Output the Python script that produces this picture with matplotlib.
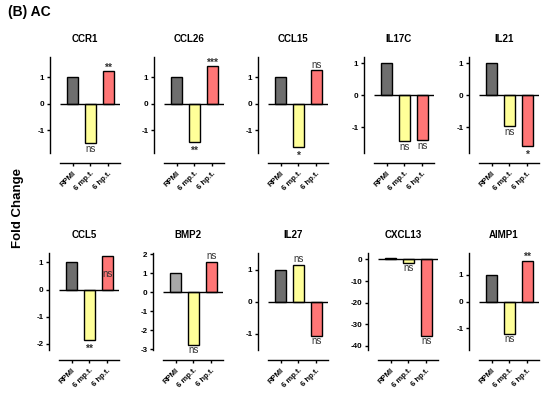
import matplotlib as mpl
mpl.use('Agg')
import matplotlib.pyplot as plt

plt.rcParams['font.family'] = ['Liberation Sans', 'DejaVu Sans']

groups = ["RPMI", "6 mp.t.", "6 hp.t."]

genes = ["CCR1", "CCL26", "CCL15", "IL17C", "IL21",
         "CCL5", "BMP2", "IL27", "CXCL13", "AIMP1"]

ccr1 = [1.0, -1.47, 1.24]
ccl26 = [1.0, -1.45, 1.43]
ccl15 = [1.0, -1.62, 1.27]
il17c = [1.0, -1.44, -1.40]
il21 = [1.0, -0.98, -1.59]
ccl5 = [1.0, -1.87, 1.25]
bmp2 = [1.0, -2.76, 1.59]
il27 = [1.0, 1.15, -1.05]
cxcl13 = [0.8, -1.5, -35.3]
aimp1 = [1.0, -1.21, 1.54]
values = [ccr1, ccl26, ccl15, il17c, il21, ccl5, bmp2, il27, cxcl13, aimp1]

sig = [["", "ns", "**"], ["", "**", "***"], ["", "*", "ns"], ["", "ns", "ns"],
       ["", "ns", "*"], ["", "**", "ns"], ["", "ns", "ns"], ["", "ns", "ns"],
       ["", "ns", "ns"], ["", "ns", "**"]]

yticks = [[-1, 0, 1]] * 5 + [[-2, -1, 0, 1], [-3, -2, -1, 0, 1, 2], [-1, 0, 1],
                             [-40, -30, -20, -10, 0], [-1, 0, 1]]
ylims = [(-1.85, 1.77), (-1.85, 1.77), (-1.85, 1.77), (-1.81, 1.19), (-1.81, 1.19),
         (-2.23, 1.35), (-3.05, 2.07), (-1.5, 1.53), (-42, 3), (-1.83, 1.83)]

W, H = 550, 397
fig = plt.figure(figsize=(5.5, 3.97), dpi=100)

lefts = [50, 154, 258, 364, 469, 49, 153, 258, 368, 469]
tops = [57] * 5 + [253] * 5
bots = [153] * 5 + [350] * 5

for i, g in enumerate(genes):
    ax = fig.add_axes([lefts[i] / W, 1 - bots[i] / H, 70 / W, (bots[i] - tops[i]) / H])
    vals = values[i]
    cols = ["#a8a8a8" if g == "BMP2" else "#6e6e6e", "#ffff99", "#ff7676"]
    x = range(3)
    ax.bar(x, vals, width=0.65, color=cols, edgecolor="black", linewidth=1.0, zorder=2)
    ax.hlines(0, -0.7, 2.65, color="black", lw=1.0, zorder=3)
    ax.set_xlim(-1.26, 2.65)
    ax.set_ylim(*ylims[i])
    ax.set_yticks(yticks[i])
    ax.set_yticklabels([str(t) for t in yticks[i]])
    ax.spines['top'].set_visible(False)
    ax.spines['right'].set_visible(False)
    ax.spines['left'].set_linewidth(1.0)
    ax.spines['bottom'].set_position(('outward', 7.5))
    ax.spines['bottom'].set_bounds(-0.68, 2.65)
    ax.spines['bottom'].set_linewidth(1.0)
    ax.set_xticks(list(x))
    ax.set_xticklabels(groups, rotation=45, ha='right', rotation_mode='anchor',
                       fontsize=5.5, fontweight='bold')
    ax.tick_params(axis='y', labelsize=5.8, length=2.5, width=1.0, pad=1.5)
    ax.tick_params(axis='x', length=2.5, width=1.0, pad=2)
    for lab in ax.get_yticklabels():
        lab.set_fontweight('bold')
    ax.set_title(g, fontsize=7, fontweight='bold', pad=10.5)
    for j, s in enumerate(sig[i]):
        if not s:
            continue
        v = vals[j]
        star = '*' in s
        kw = dict(ha='center', fontsize=7.5 if star else 7, color='#333333',
                  fontweight='bold' if star else 'normal')
        if g == "CCL5" and j == 2:
            ax.text(j, v * 0.45, s, va='center', **kw)
        elif v >= 0:
            off = -1.0 if star else 0.5
            ax.annotate(s, (j, v), xytext=(0, off), textcoords='offset points',
                        va='bottom', **kw)
        else:
            off = -2.5 if star else -0.5
            ax.annotate(s, (j, v), xytext=(0, off), textcoords='offset points',
                        va='top', **kw)

fig.text(8 / W, 1 - 12 / H, "(B) AC", fontsize=10, fontweight='bold', ha='left', va='center')
fig.text(18 / W, 1 - 208 / H, "Fold Change", fontsize=9.5, fontweight='bold',
         rotation=90, ha='center', va='center')

fig.savefig('out.png', dpi=100)
